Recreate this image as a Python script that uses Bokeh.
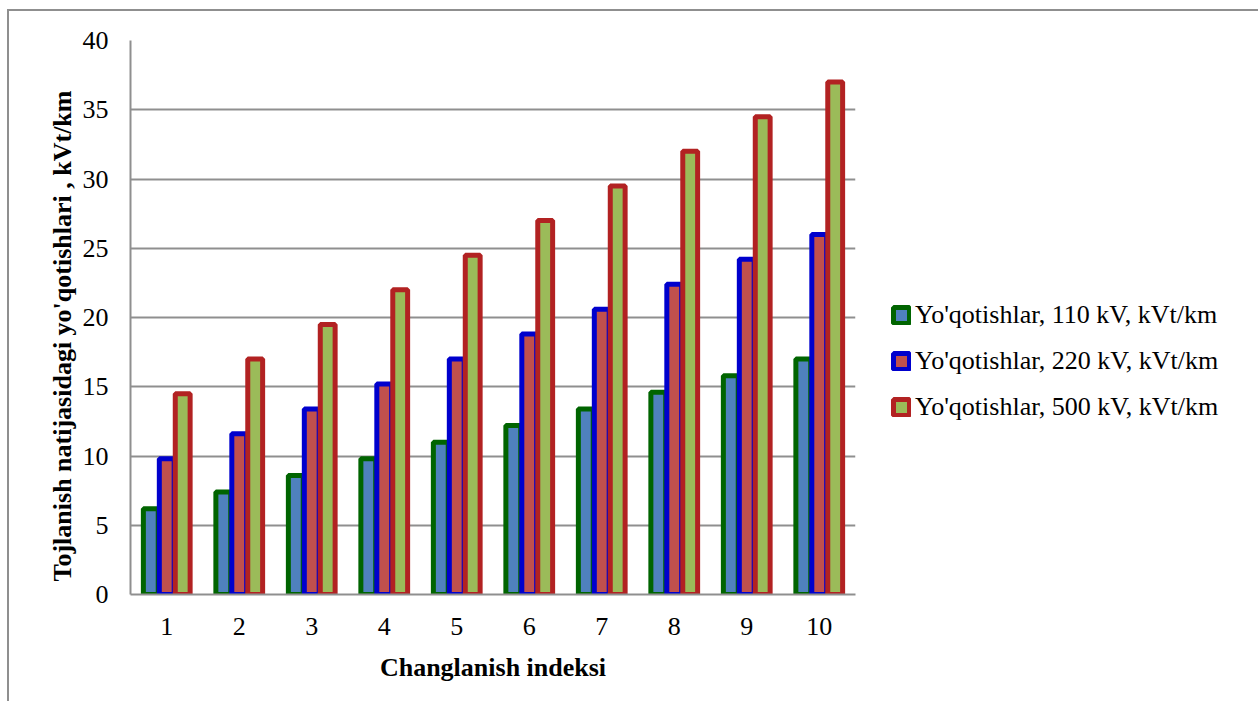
from bokeh.plotting import figure
from bokeh.models import ColumnDataSource, Range1d, FixedTicker, Legend, LegendItem, Title
from bokeh.transform import dodge
from bokeh.embed import file_html
from bokeh.resources import INLINE

# ---- data ----
categories = [1, 2, 3, 4, 5, 6, 7, 8, 9, 10]
loss_110 = [6.2, 7.4, 8.6, 9.8, 11.0, 12.2, 13.4, 14.6, 15.8, 17.0]
loss_220 = [9.8, 11.6, 13.4, 15.2, 17.0, 18.8, 20.6, 22.4, 24.2, 26.0]
loss_500 = [14.5, 17.0, 19.5, 22.0, 24.5, 27.0, 29.5, 32.0, 34.5, 37.0]
series_names = ["Yo'qotishlar, 110 kV, kVt/km",
                "Yo'qotishlar, 220 kV, kVt/km",
                "Yo'qotishlar, 500 kV, kVt/km"]
y_ticks = [0, 5, 10, 15, 20, 25, 30, 35, 40]
x_title = "Changlanish indeksi"
y_title = "Tojlanish natijasidagi yo'qotishlari , kVt/km"

FONT = "Liberation Serif"

src = ColumnDataSource(dict(x=categories, a=loss_110, b=loss_220, c=loss_500))

p = figure(frame_width=725, frame_height=554, output_backend="svg", toolbar_location=None,
           x_range=Range1d(0.5, 10.5), y_range=Range1d(0, 40),
           min_border_left=121, min_border_top=29, min_border_bottom=107,
           min_border_right=401)
p.styles = {"border-left": "2px solid #8f8f8f", "border-top": "2px solid #8f8f8f",
            "margin-top": "9px", "margin-left": "7px"}
p.outline_line_color = None
p.background_fill_color = "white"
p.border_fill_color = "white"

off = 0.22
w = 0.205
lw = 5
r1 = p.vbar(x=dodge("x", -off, range=p.x_range), top="a", width=w, source=src,
            fill_color="#4F81BD", line_color="#006400", line_width=lw)
r2 = p.vbar(x=dodge("x", 0, range=p.x_range), top="b", width=w, source=src,
            fill_color="#C0504D", line_color="#0000CD", line_width=lw)
r3 = p.vbar(x=dodge("x", off, range=p.x_range), top="c", width=w, source=src,
            fill_color="#9BBB59", line_color="#B22222", line_width=lw)

# axes
p.xaxis.ticker = FixedTicker(ticks=categories)
p.yaxis.ticker = FixedTicker(ticks=y_ticks)
for ax in (p.xaxis[0], p.yaxis[0]):
    ax.axis_line_color = "#8f8f8f"
    ax.axis_line_width = 2
    ax.major_tick_line_color = None
    ax.minor_tick_line_color = None
    ax.major_tick_out = 0
    ax.major_tick_in = 0
    ax.major_label_text_font = FONT
    ax.major_label_text_font_size = "26px"
    ax.major_label_text_color = "black"
    ax.axis_label_text_font = FONT
    ax.axis_label_text_font_style = "bold"
    ax.axis_label_text_color = "black"
    ax.axis_label_text_font_size = "26px"
p.xaxis.axis_label = x_title
p.xaxis.major_label_standoff = 23
p.yaxis.major_label_standoff = 22
p.xaxis.axis_label_standoff = 15

ytitle = Title(text=y_title, align="left", offset=13, standoff=6,
               text_font=FONT, text_font_size="26px", text_font_style="bold",
               text_color="black")
p.add_layout(ytitle, "left")

p.xgrid.grid_line_color = None
p.ygrid.ticker = FixedTicker(ticks=y_ticks)
p.ygrid.grid_line_color = "#8f8f8f"
p.ygrid.grid_line_width = 2

legend = Legend(items=[LegendItem(label=series_names[0], renderers=[r1]),
                       LegendItem(label=series_names[1], renderers=[r2]),
                       LegendItem(label=series_names[2], renderers=[r3])],
                location=(36, 172), padding=0, margin=0, spacing=16,
                glyph_width=20, glyph_height=20, label_height=25,
                label_standoff=4, label_text_font=FONT, label_text_font_size="26px",
                label_text_color="black", border_line_color=None,
                background_fill_alpha=0)
p.add_layout(legend, "right")

open("out.html", "w").write(file_html(p, INLINE))
